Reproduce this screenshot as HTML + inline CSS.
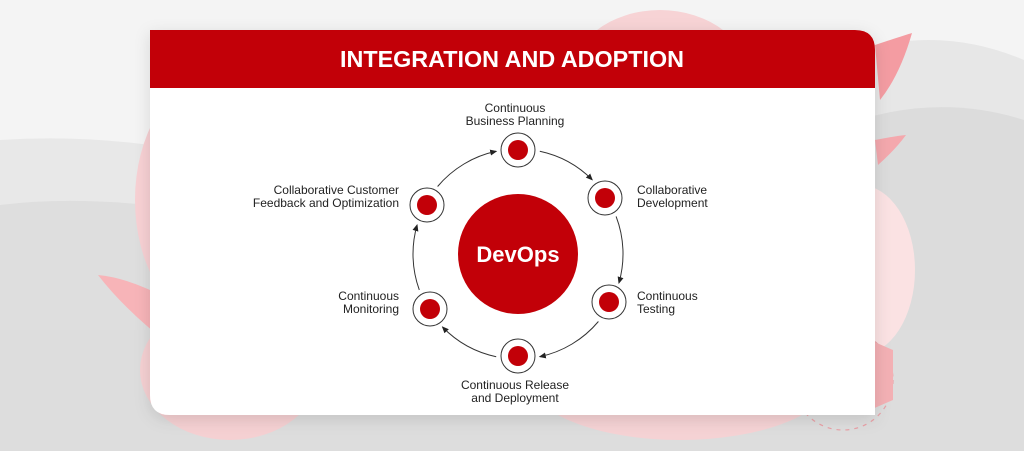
<!DOCTYPE html>
<html><head><meta charset="utf-8"><style>
html,body{margin:0;padding:0}
body{width:1024px;height:451px;overflow:hidden;background:#f4f4f4;position:relative;font-family:"Liberation Sans",sans-serif}
svg{position:absolute;left:0;top:0}
</style></head><body>
<svg width="1024" height="451" viewBox="0 0 1024 451">
<defs>
<marker id="a" markerWidth="8" markerHeight="8" refX="6" refY="4" orient="auto" markerUnits="userSpaceOnUse">
<path d="M0,1 L7,4 L0,7 Z" fill="#222"/></marker>
<filter id="sh" x="-10%" y="-10%" width="120%" height="130%"><feDropShadow dx="0" dy="4" stdDeviation="8" flood-color="#000" flood-opacity="0.12"/></filter>
</defs>
<!-- background -->
<path d="M0,140 Q150,130 300,180 L300,451 L0,451 Z" fill="#e8e8e8"/>
<path d="M0,205 Q120,190 300,230 L300,451 L0,451 Z" fill="#dedede"/>
<path d="M830,60 Q930,20 1024,60 L1024,451 L830,451 Z" fill="#e7e7e7"/>
<path d="M830,130 Q930,90 1024,120 L1024,451 L830,451 Z" fill="#dcdcdc"/>
<rect x="0" y="330" width="1024" height="121" fill="#dddddd"/>
<ellipse cx="660" cy="80" rx="90" ry="70" fill="#f7d3d5"/>
<ellipse cx="210" cy="200" rx="75" ry="120" fill="#f7d0d3"/>
<ellipse cx="230" cy="370" rx="90" ry="70" fill="#f5d0d2"/>
<ellipse cx="860" cy="270" rx="55" ry="85" fill="#fbe2e3"/>
<ellipse cx="680" cy="380" rx="150" ry="60" fill="#f5d2d4"/>
<path d="M875,45 Q905,35 912,33 Q900,75 880,100 Z" fill="#f49ca2"/>
<path d="M875,140 Q895,136 906,135 Q895,150 878,165 Z" fill="#f4a8ad"/>
<path d="M98,275 Q130,278 170,300 L170,345 Q125,310 98,275 Z" fill="#f7b4b8"/>
<circle cx="843" cy="380" r="50" fill="none" stroke="#e9a0a6" stroke-width="1.2" stroke-dasharray="4 5"/>
<path d="M870,340 L893,350 L893,400 L870,410 Z" fill="#f3b0b4"/>
<!-- card -->
<path d="M150,30 L855,30 Q875,30 875,50 L875,415 L170,415 Q150,415 150,395 Z" fill="#fff" filter="url(#sh)"/>
<path d="M150,30 L855,30 Q875,30 875,50 L875,88 L150,88 Z" fill="#c20008"/>
<text x="512" y="67" text-anchor="middle" fill="#fff" font-family="Liberation Sans" font-weight="bold" font-size="23" textLength="344" lengthAdjust="spacingAndGlyphs">INTEGRATION AND ADOPTION</text>
<!-- center -->
<circle cx="518" cy="254" r="60" fill="#c20008"/>
<text x="518" y="262" text-anchor="middle" fill="#fff" font-weight="bold" font-size="22">DevOps</text>
<!-- arcs -->
<g fill="none" stroke="#333" stroke-width="1" marker-end="url(#a)">
<path d="M539.8,151.3 A105,105 0 0 1 592.2,179.8"/>
<path d="M616.1,216.4 A105,105 0 0 1 618.9,283"/>
<path d="M598.4,321.5 A105,105 0 0 1 539.8,356.7"/>
<path d="M496.2,356.7 A105,105 0 0 1 442.5,327"/>
<path d="M419.3,289.9 A105,105 0 0 1 417.1,225"/>
<path d="M437.6,186.5 A105,105 0 0 1 496.2,151.3"/>
</g>
<!-- nodes -->
<g fill="#fff" stroke="#333" stroke-width="1">
<circle cx="518" cy="150" r="17"/><circle cx="605" cy="198" r="17"/><circle cx="609" cy="302" r="17"/>
<circle cx="518" cy="356" r="17"/><circle cx="430" cy="309" r="17"/><circle cx="427" cy="205" r="17"/>
</g>
<g fill="#c20008">
<circle cx="518" cy="150" r="10"/><circle cx="605" cy="198" r="10"/><circle cx="609" cy="302" r="10"/>
<circle cx="518" cy="356" r="10"/><circle cx="430" cy="309" r="10"/><circle cx="427" cy="205" r="10"/>
</g>
<g fill="#222" font-size="12">
<text x="515" y="112" text-anchor="middle">Continuous</text>
<text x="515" y="125" text-anchor="middle">Business Planning</text>
<text x="637" y="194">Collaborative</text>
<text x="637" y="207">Development</text>
<text x="637" y="300">Continuous</text>
<text x="637" y="313">Testing</text>
<text x="515" y="389" text-anchor="middle">Continuous Release</text>
<text x="515" y="402" text-anchor="middle">and Deployment</text>
<text x="399" y="300" text-anchor="end">Continuous</text>
<text x="399" y="313" text-anchor="end">Monitoring</text>
<text x="399" y="194" text-anchor="end">Collaborative Customer</text>
<text x="399" y="207" text-anchor="end">Feedback and Optimization</text>
</g>
</svg>
</body></html>
